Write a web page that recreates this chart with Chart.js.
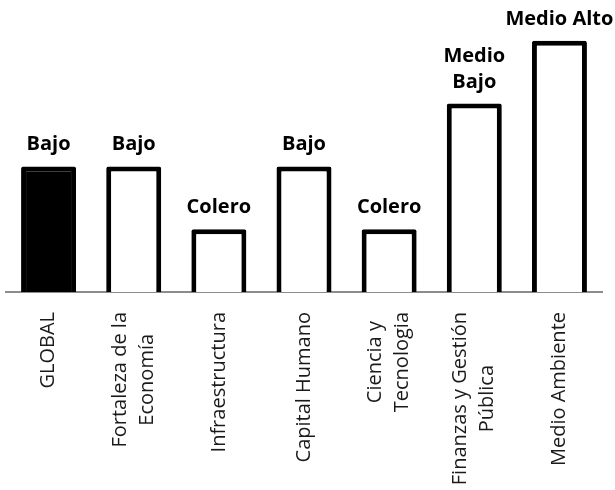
<!DOCTYPE html>
<html>
<head>
<meta charset="utf-8">
<script src="https://cdn.jsdelivr.net/npm/chart.js@4"></script>
<style>
  body { margin: 0; background: #fff; }
  #wrap { width: 615px; height: 490px; }
</style>
</head>
<body>
<div id="wrap"><canvas id="myChart" width="615" height="490"></canvas></div>
<script>
// data (1 = Colero, 2 = Bajo, 3 = Medio Bajo, 4 = Medio Alto)
const categories = [
  'GLOBAL',
  ['Fortaleza de la', 'Economía'],
  'Infraestructura',
  'Capital Humano',
  ['Ciencia y', 'Tecnologia'],
  ['Finanzas y Gestión', 'Pública'],
  'Medio Ambiente'
];
const levels = [2, 2, 1, 2, 1, 3, 4];
const levelNames = ['Bajo', 'Bajo', 'Colero', 'Bajo', 'Colero', ['Medio', 'Bajo'], 'Medio Alto'];
const fills = ['#000', '#fff', '#fff', '#fff', '#fff', '#fff', '#fff'];

// labels above bars
const barLabels = {
  id: 'barLabels',
  afterDatasetsDraw(chart) {
    const ctx = chart.ctx;
    const meta = chart.getDatasetMeta(0);
    ctx.save();
    ctx.font = 'bold 20px "Open Sans"';
    ctx.fillStyle = '#000';
    ctx.textAlign = 'center';
    ctx.textBaseline = 'alphabetic';
    meta.data.forEach(function(bar, i) {
      let lines = levelNames[i];
      if (!Array.isArray(lines)) lines = [lines];
      const n = lines.length;
      lines.forEach(function(t, j) {
        ctx.fillText(t, bar.x, bar.y - 16 - (n - 1 - j) * 26);
      });
    });
    ctx.restore();
  }
};

// rotated category labels, centred lines
const catLabels = {
  id: 'catLabels',
  afterDraw(chart) {
    const ctx = chart.ctx;
    const xs = chart.scales.x;
    const top = chart.chartArea.bottom + 20;
    ctx.save();
    ctx.font = '20px "Open Sans"';
    ctx.fillStyle = '#1a1a1a';
    ctx.textAlign = 'center';
    ctx.textBaseline = 'middle';
    categories.forEach(function(c, i) {
      let lines = Array.isArray(c) ? c : [c];
      const w = Math.max.apply(null, lines.map(function(l) { return ctx.measureText(l).width; }));
      const x = xs.getPixelForValue(i);
      ctx.save();
      ctx.translate(x, top);
      ctx.rotate(-Math.PI / 2);
      lines.forEach(function(l, j) {
        ctx.fillText(l, -w / 2, (j - (lines.length - 1) / 2) * 27);
      });
      ctx.restore();
    });
    ctx.restore();
  }
};

new Chart(document.getElementById('myChart'), {
  type: 'bar',
  data: {
    labels: categories,
    datasets: [{
      data: levels,
      backgroundColor: fills,
      borderColor: '#000',
      borderWidth: 5,
      borderRadius: 2,
      borderSkipped: 'bottom',
      barPercentage: 0.646,
      categoryPercentage: 1
    }]
  },
  options: {
    responsive: false,
    animation: false,
    layout: { padding: { left: 6, right: 13, top: 0, bottom: 0 } },
    plugins: { legend: { display: false }, tooltip: { enabled: false } },
    scales: {
      x: {
        grid: { display: false, drawTicks: false },
        border: { display: true, color: '#8c8c8c', width: 2 },
        ticks: { display: false },
        afterFit: function(scale) { scale.height = 198; }
      },
      y: {
        display: false,
        min: 0,
        max: 4.65
      }
    }
  },
  plugins: [barLabels, catLabels]
});
</script>
</body>
</html>
